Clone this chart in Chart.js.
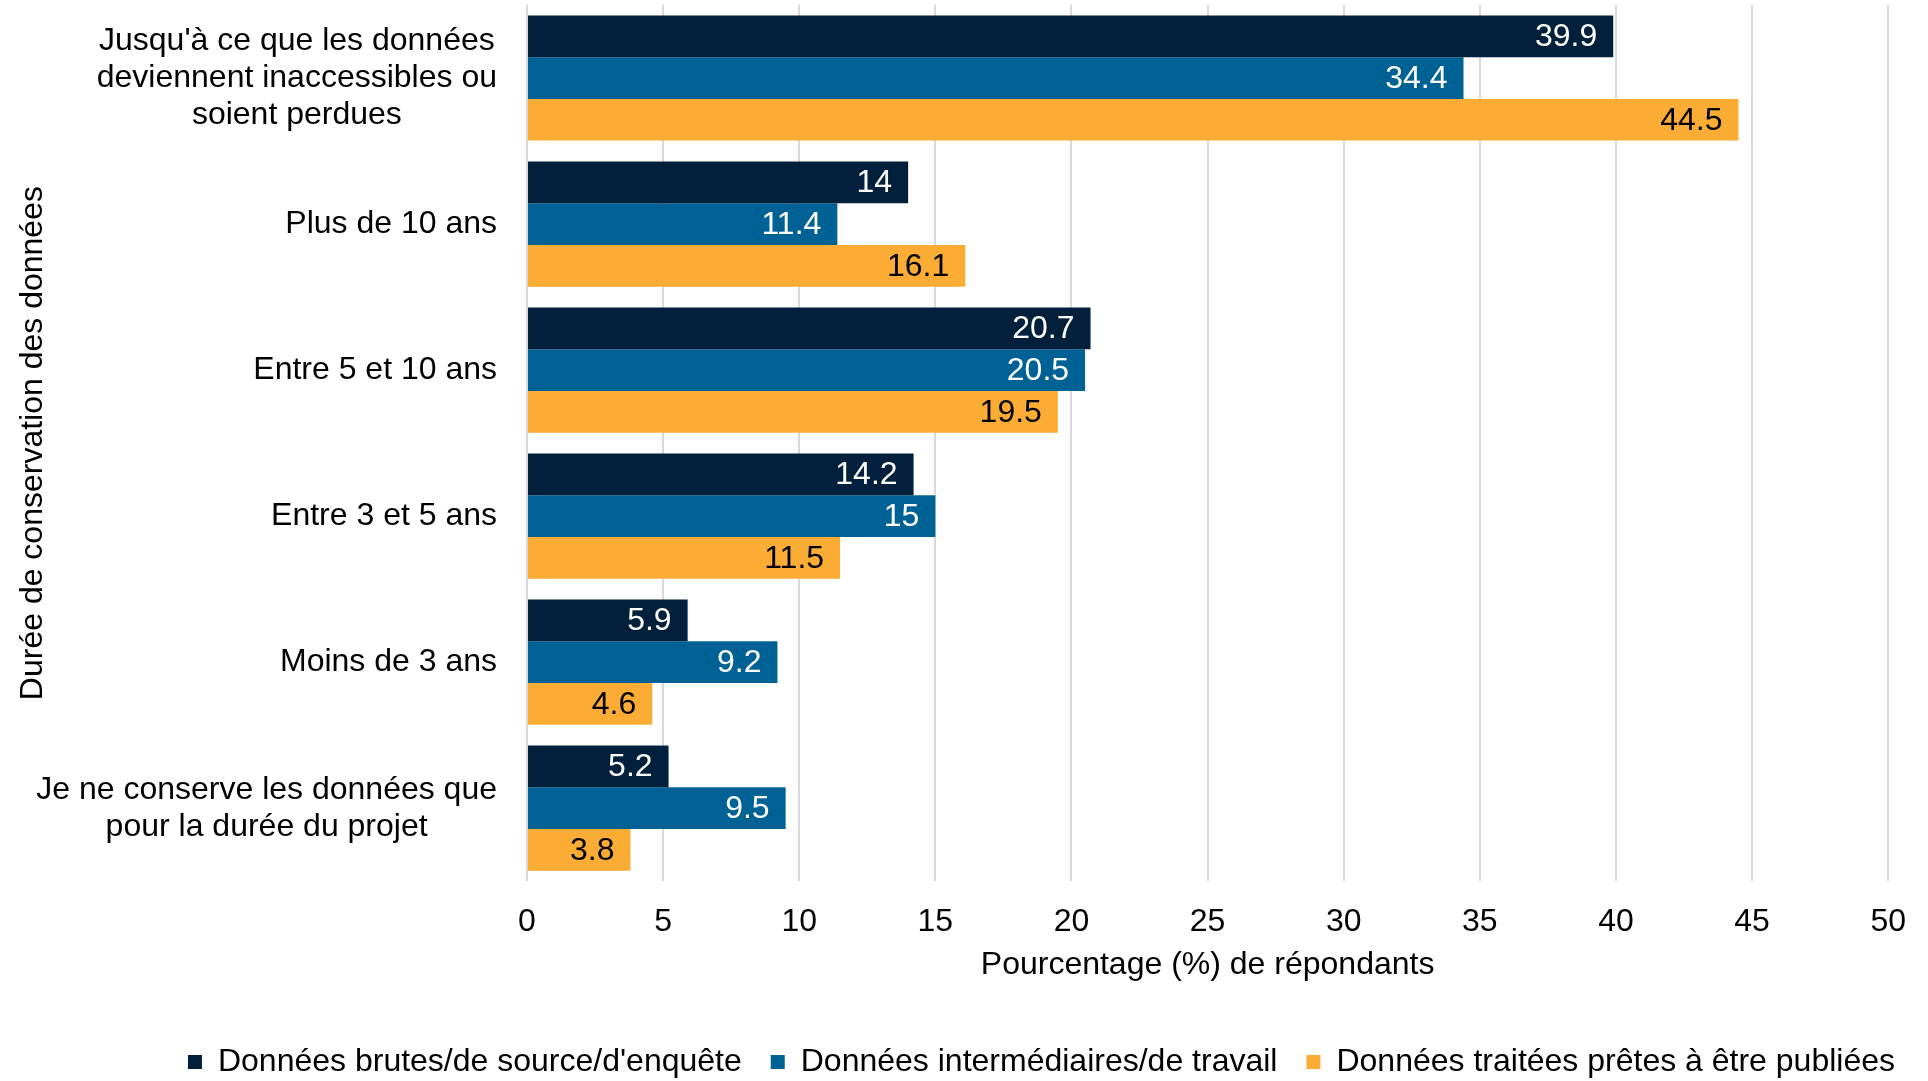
<!DOCTYPE html>
<html lang="fr">
<head>
<meta charset="utf-8">
<title>Durée de conservation des données</title>
<script src="https://cdn.jsdelivr.net/npm/chart.js@4.4.1/dist/chart.umd.min.js"></script>
<style>
  html, body { margin: 0; padding: 0; background: #ffffff; }
  canvas { display: block; }
</style>
</head>
<body>
<canvas id="chart" width="1928" height="1081"></canvas>
<script>
// Data
const categories = [
    ["Jusqu'à ce que les données", "deviennent inaccessibles ou", "soient perdues"],
    ["Plus de 10 ans"],
    ["Entre 5 et 10 ans"],
    ["Entre 3 et 5 ans"],
    ["Moins de 3 ans"],
    ["Je ne conserve les données que", "pour la durée du projet"]
];
const seriesNames = [
    "Données brutes/de source/d'enquête",
    "Données intermédiaires/de travail",
    "Données traitées prêtes à être publiées"
];
const brutes = [39.9, 14, 20.7, 14.2, 5.9, 5.2];
const intermediaires = [34.4, 11.4, 20.5, 15, 9.2, 9.5];
const traitees = [44.5, 16.1, 19.5, 11.5, 4.6, 3.8];
const xTicks = [0, 5, 10, 15, 20, 25, 30, 35, 40, 45, 50];

const colors = ['#02203b', '#006294', '#fbac34'];
const valueColors = ['#ffffff', '#ffffff', '#000000'];
const FONT = '"Liberation Sans", Arial, sans-serif';
const FONT_SIZE = 32;

Chart.defaults.font.family = FONT;
Chart.defaults.font.size = FONT_SIZE;
Chart.defaults.color = '#000000';

// Draws value labels inside bar ends and the centred multi-line category labels
const labelPlugin = {
    id: 'labelPlugin',
    afterLayout(chart) {
        // legend sits further right and a bit lower in the original
        chart.legend.left += 26;
        chart.legend.right += 26;
        chart.legend.top += 7;
        chart.legend.bottom += 7;
    },
    afterDatasetsDraw(chart) {
        const ctx = chart.ctx;
        ctx.save();
        ctx.font = FONT_SIZE + 'px ' + FONT;
        ctx.textBaseline = 'middle';

        chart.data.datasets.forEach((ds, i) => {
            const meta = chart.getDatasetMeta(i);
            ctx.fillStyle = valueColors[i];
            ctx.textAlign = 'right';
            meta.data.forEach((bar, j) => {
                ctx.fillText(String(ds.data[j]), bar.x - 16, bar.y + 1);
            });
        });

        const yScale = chart.scales.y;
        const right = chart.chartArea.left - 30;
        ctx.fillStyle = '#000000';
        ctx.textAlign = 'center';
        categories.forEach((lines, i) => {
            const cy = yScale.getPixelForTick(i);
            const w = Math.max(...lines.map(l => ctx.measureText(l).width));
            const cx = right - w / 2;
            lines.forEach((line, k) => {
                ctx.fillText(line, cx, cy + (k - (lines.length - 1) / 2) * 37);
            });
        });
        ctx.restore();
    }
};

const ctx = document.getElementById('chart').getContext('2d');
new Chart(ctx, {
    type: 'bar',
    data: {
        labels: categories,
        datasets: [brutes, intermediaires, traitees].map((values, i) => ({
            label: seriesNames[i],
            data: values,
            backgroundColor: colors[i],
            borderWidth: 0,
            categoryPercentage: 0.857,
            barPercentage: 1
        }))
    },
    options: {
        indexAxis: 'y',
        responsive: false,
        devicePixelRatio: 1,
        animation: false,
        layout: { padding: { left: 10, right: 30, top: 5, bottom: 0 } },
        plugins: {
            legend: {
                position: 'bottom',
                align: 'end',
                labels: {
                    boxWidth: 14,
                    boxHeight: 14,
                    padding: 29,
                    color: '#000000',
                    font: { size: FONT_SIZE }
                }
            },
            tooltip: { enabled: false }
        },
        scales: {
            x: {
                min: xTicks[0],
                max: xTicks[xTicks.length - 1],
                afterBuildTicks: scale => { scale.ticks = xTicks.map(v => ({ value: v })); },
                ticks: { padding: 22, color: '#000000', font: { size: FONT_SIZE } },
                grid: { color: '#d9d9d9', lineWidth: 2, drawTicks: false },
                border: { display: false },
                title: {
                    display: true,
                    text: 'Pourcentage (%) de répondants',
                    color: '#000000',
                    font: { size: FONT_SIZE },
                    padding: { top: -18, bottom: 26 }
                }
            },
            y: {
                ticks: { display: false },
                grid: { display: false },
                border: { display: false },
                afterFit: scale => { scale.width = 517; },
                title: {
                    display: true,
                    text: 'Durée de conservation des données',
                    color: '#000000',
                    font: { size: FONT_SIZE }
                }
            }
        }
    },
    plugins: [labelPlugin]
});
</script>
</body>
</html>
